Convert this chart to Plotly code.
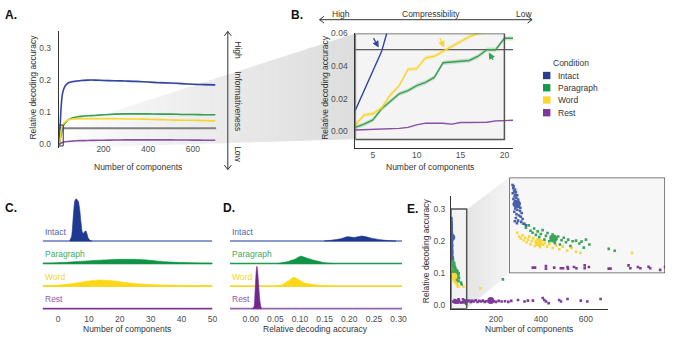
import plotly.graph_objects as go

W, H = 677, 340


def px(x):
    return x / W


def py(y):
    return 1 - y / H


FONT = "Liberation Sans, Arial, Helvetica, sans-serif"
TXT = "#333333"
TICK = "#4d4d4d"

# ---------------------------------------------------------------- data
conditions = ["Intact", "Paragraph", "Word", "Rest"]

# A: relative decoding accuracy over the full range of components
a_components = [1, 3, 5, 7, 10, 15, 20, 30, 40, 50, 60, 80, 100, 130, 160,
                200, 250, 300, 350, 400, 450, 500, 550, 600, 650, 700]
a_intact = [0.0, 0.013, 0.037, 0.068, 0.11, 0.15, 0.168, 0.183, 0.19, 0.193,
            0.195, 0.197, 0.199, 0.2, 0.2, 0.199, 0.198, 0.197, 0.196, 0.194,
            0.192, 0.191, 0.189, 0.187, 0.186, 0.185]
a_paragraph = [0.0, 0.0024, 0.007, 0.0184, 0.028, 0.043, 0.057, 0.068, 0.075,
               0.079, 0.082, 0.085, 0.087, 0.089, 0.090, 0.092, 0.094, 0.095,
               0.095, 0.095, 0.094, 0.094, 0.093, 0.093, 0.092, 0.092]
a_word = [0.0, 0.0038, 0.0108, 0.0224, 0.0384, 0.055, 0.064, 0.071, 0.075,
          0.078, 0.079, 0.08, 0.08, 0.08, 0.08, 0.08, 0.08, 0.079, 0.079,
          0.078, 0.077, 0.076, 0.075, 0.075, 0.074, 0.073]
a_rest = [0.0, 0.0008, 0.0012, 0.0015, 0.004, 0.0054, 0.0068, 0.008, 0.009,
          0.0095, 0.010, 0.011, 0.0115, 0.012, 0.0125, 0.013, 0.0135, 0.014,
          0.014, 0.014, 0.014, 0.0138, 0.0135, 0.0132, 0.013, 0.013]
a_ci_half = {"Intact": 0.003, "Paragraph": 0.0025, "Word": 0.002, "Rest": 0.001}
chance_level = 0.05

# B: the first components, zoomed
b_components = list(range(3, 22))
b_intact_components = [3, 4, 5, 6, 7, 8]
b_intact = [0.013, 0.025, 0.037, 0.049, 0.068, 0.085]
b_paragraph = [0.0024, 0.0044, 0.007, 0.0138, 0.0184, 0.023, 0.025, 0.028,
               0.030, 0.033, 0.042, 0.0424, 0.043, 0.0434, 0.046, 0.050,
               0.050, 0.057, 0.057]
b_word = [0.0038, 0.010, 0.0108, 0.0144, 0.0224, 0.028, 0.038, 0.0384, 0.045,
          0.046, 0.049, 0.052, 0.055, 0.058, 0.060, 0.061, 0.063, 0.064, 0.065]
b_rest = [0.0008, 0.001, 0.0012, 0.0013, 0.0015, 0.0018, 0.0024, 0.004, 0.005,
          0.0052, 0.005, 0.0044, 0.0054, 0.0054, 0.0054, 0.0056, 0.0064,
          0.0064, 0.0068]
b_ci_half = {"Intact": 0.0006, "Paragraph": 0.0013, "Word": 0.0013, "Rest": 0.0003}

# C: density of the number of components needed (row-height units)
c_intact_x = [3.8, 4.4, 5.0, 5.4, 5.8, 6.2, 6.6, 7.0, 7.4, 7.8, 8.2, 8.6,
              9.0, 9.4, 9.8, 10.2, 10.6, 11.0]
c_intact_h = [0.0, 0.22, 1.25, 1.78, 1.88, 1.83, 1.74, 1.40, 0.85, 0.42,
              0.33, 0.42, 0.45, 0.30, 0.12, 0.05, 0.01, 0.0]
c_paragraph_x = [-5, 0, 3, 6, 9.5, 13, 17, 20, 24.5, 28, 31, 35, 40.5, 45, 50]
c_paragraph_h = [0.013, 0.039, 0.057, 0.087, 0.117, 0.148, 0.174, 0.187,
                 0.187, 0.165, 0.13, 0.078, 0.043, 0.026, 0.013]
c_word_x = [-5, 0, 4.8, 7.5, 10, 13.3, 17, 21, 26, 32, 40.7, 50]
c_word_h = [0.013, 0.043, 0.117, 0.174, 0.23, 0.274, 0.248, 0.174, 0.1,
            0.057, 0.03, 0.013]
c_rest_x = [-5, 50]
c_rest_h = [0.0, 0.0]

# D: density of the relative decoding accuracy (row-height units)
d_intact_x = [0.149, 0.165, 0.183, 0.196, 0.21, 0.226, 0.243, 0.263, 0.283, 0.295]
d_intact_h = [0, 0.04, 0.1, 0.19, 0.16, 0.22, 0.14, 0.06, 0.01, 0]
d_paragraph_x = [0.055, 0.075, 0.089, 0.101, 0.112, 0.129, 0.149, 0.169]
d_paragraph_h = [0, 0.087, 0.19, 0.33, 0.26, 0.145, 0.04, 0]
d_word_x = [0.048, 0.065, 0.079, 0.087, 0.095, 0.109, 0.129, 0.149, 0.17]
d_word_h = [0, 0.074, 0.27, 0.39, 0.32, 0.145, 0.058, 0.013, 0]
d_rest_x = [0.004, 0.007, 0.009, 0.011, 0.0125, 0.014, 0.016, 0.018, 0.02, 0.022]
d_rest_h = [0, 0.1, 0.8, 1.6, 1.88, 1.7, 1.1, 0.5, 0.15, 0]

# E: individual recordings (components, accuracy) and condition means
e_intact_x = [1.5, 2.0, 1.8, 2.6, 2.2, 3.0, 1.6, 2.8, 3.6, 2.4, 3.2, 1.9, 4.0,
              2.6, 3.8, 4.6, 2.1, 3.0, 4.2, 5.0, 2.7, 3.6, 4.8, 2.3, 5.6, 3.3,
              4.4, 5.2, 3.0, 6.0, 4.0, 5.4, 3.5, 6.8, 2.5, 7.5]
e_intact_y = [0.272, 0.268, 0.262, 0.258, 0.252, 0.250, 0.246, 0.242, 0.240,
              0.236, 0.232, 0.228, 0.226, 0.222, 0.218, 0.214, 0.212, 0.208,
              0.204, 0.200, 0.198, 0.194, 0.190, 0.188, 0.184, 0.180, 0.176,
              0.172, 0.168, 0.165, 0.160, 0.156, 0.152, 0.150, 0.158, 0.145]
e_paragraph_x = [6.2, 7.5, 8.8, 9.6, 10.5, 11.2, 12.0, 12.8, 13.5, 14.2, 15.0,
                 15.8, 16.5, 17.2, 18.0, 18.8, 19.5, 20.5, 21.2, 22.0, 22.8,
                 23.5, 24.5, 25.5, 26.5, 27.5, 28.5, 30.0, 31.5, 32.5, 33.5,
                 34.5, 36.0, 44.7, 47.4, 231]
e_paragraph_y = [0.150, 0.138, 0.145, 0.128, 0.122, 0.135, 0.115, 0.126, 0.108,
                 0.118, 0.130, 0.100, 0.112, 0.121, 0.095, 0.108, 0.116, 0.090,
                 0.102, 0.110, 0.085, 0.098, 0.106, 0.092, 0.100, 0.080, 0.095,
                 0.097, 0.088, 0.094, 0.075, 0.100, 0.085, 0.071, 0.065, 0.081]
e_word_x = [3.6, 4.5, 5.2, 6.0, 6.5, 7.2, 7.8, 8.5, 9.0, 9.6, 10.2, 10.8, 11.5,
            12.0, 12.6, 13.2, 13.8, 14.5, 15.2, 16.0, 17.0, 18.0, 19.5, 21.0,
            22.5, 24.0, 26.0, 28.0, 30.0, 32.0, 55.2, 131]
e_word_y = [0.122, 0.110, 0.104, 0.114, 0.098, 0.106, 0.092, 0.100, 0.110,
            0.086, 0.096, 0.104, 0.080, 0.092, 0.100, 0.088, 0.076, 0.095,
            0.084, 0.090, 0.078, 0.086, 0.074, 0.082, 0.070, 0.078, 0.066,
            0.074, 0.062, 0.058, 0.058, 0.053]
e_rest_x = [10.6, 11.6, 16.5, 16.5, 20.2, 23.2, 24.2, 26.2, 26.4, 29.1, 30.2,
            33.9, 33.9, 35.8, 44.7, 45.5, 53.6, 54.4, 57.8, 58.9, 62.6, 63.3,
            67.8, 70.0, 76, 82, 88, 95, 102, 110, 118, 126, 134, 142, 150, 158,
            190, 200, 212, 225, 240, 255, 268, 298, 327, 342, 364, 408, 415,
            422, 434, 481, 489, 518, 577, 606, 665]
e_rest_y = [0.012, 0.012, 0.017, 0.009, 0.012, 0.010, 0.010, 0.014, 0.009,
            0.014, 0.010, 0.019, 0.010, 0.014, 0.009, 0.009, 0.019, 0.010,
            0.014, 0.010, 0.015, 0.010, 0.005, 0.014, 0.013, 0.015, 0.011,
            0.014, 0.012, 0.016, 0.011, 0.014, 0.012, 0.015, 0.011, 0.013,
            0.013, 0.011, 0.014, 0.012, 0.013, 0.011, 0.014, 0.017, 0.012,
            0.015, 0.015, 0.023, 0.017, 0.012, 0.007, 0.017, 0.012, 0.020,
            0.015, 0.012, 0.020]
e_mean_x = [3.4, 19.8, 13.2, 177]
e_mean_y = [0.212, 0.104, 0.091, 0.015]

# ---------------------------------------------------------------- styles
line_color = {"Intact": "#3347a2", "Paragraph": "#3a9f55", "Word": "#f7d62c", "Rest": "#8a50a6"}
ridge_fill = {"Intact": "#1f3890", "Paragraph": "#0f9446", "Word": "#fdd819", "Rest": "#74268f"}
ridge_base = {"Intact": "#6677bb", "Paragraph": "#1f9a4e", "Word": "#f9d733", "Rest": "#9565ad"}
ridge_label = {"Intact": "#5264b0", "Paragraph": "#3daa5f", "Word": "#f6d532", "Rest": "#9258ab"}
legend_color = {"Intact": "#2b3c8c", "Paragraph": "#15994b", "Word": "#fdd52b", "Rest": "#7a3a96"}
point_color = {"Intact": "#4a5eae", "Paragraph": "#3ca45a", "Word": "#f8d73a", "Rest": "#7e3b9b"}


def rgba(hex_color, alpha):
    h = hex_color.lstrip("#")
    r, g, b = int(h[0:2], 16), int(h[2:4], 16), int(h[4:6], 16)
    return f"rgba({r},{g},{b},{alpha})"


fig = go.Figure()

# ------------------------------------------------------------ panel A
a_range_x = [0, 705]
a_series = {"Intact": a_intact, "Paragraph": a_paragraph, "Word": a_word, "Rest": a_rest}
fig.add_trace(go.Scatter(x=a_range_x, y=[chance_level, chance_level], mode="lines",
                         line=dict(color="#808080", width=2), xaxis="x", yaxis="y",
                         hoverinfo="skip"))
for c in conditions:
    ys = a_series[c]
    hw = a_ci_half[c]
    fig.add_trace(go.Scatter(
        x=a_components + a_components[::-1],
        y=[v + hw for v in ys] + [v - hw for v in ys][::-1],
        fill="toself", fillcolor=rgba(line_color[c], 0.18), line=dict(width=0),
        mode="lines", xaxis="x", yaxis="y", hoverinfo="skip"))
    fig.add_trace(go.Scatter(x=a_components, y=ys, mode="lines",
                             line=dict(color=line_color[c], width=1.6, shape="spline", smoothing=0.6),
                             xaxis="x", yaxis="y", name=c))

# ------------------------------------------------------------ panel B
b_range_x = [3, 21]
fig.add_trace(go.Scatter(x=b_range_x, y=[chance_level, chance_level], mode="lines",
                         line=dict(color="#333333", width=1), xaxis="x2", yaxis="y2",
                         hoverinfo="skip"))
b_series = {"Intact": (b_intact_components, b_intact), "Paragraph": (b_components, b_paragraph),
            "Word": (b_components, b_word), "Rest": (b_components, b_rest)}
for c in ["Rest", "Paragraph", "Word", "Intact"]:
    xs, ys = b_series[c]
    hw = b_ci_half[c]
    fig.add_trace(go.Scatter(
        x=xs + xs[::-1],
        y=[v + hw for v in ys] + [v - hw for v in ys][::-1],
        fill="toself", fillcolor=rgba(line_color[c], 0.25), line=dict(width=0),
        mode="lines", xaxis="x2", yaxis="y2", hoverinfo="skip"))
    fig.add_trace(go.Scatter(x=xs, y=ys, mode="lines",
                             line=dict(color=line_color[c], width=1.4),
                             xaxis="x2", yaxis="y2", name=c))

# ------------------------------------------------------ panels C and D
row_offset = {"Intact": 3, "Paragraph": 2, "Word": 1, "Rest": 0}
c_series = {"Intact": (c_intact_x, c_intact_h), "Paragraph": (c_paragraph_x, c_paragraph_h),
            "Word": (c_word_x, c_word_h), "Rest": (c_rest_x, c_rest_h)}
d_series = {"Intact": (d_intact_x, d_intact_h), "Paragraph": (d_paragraph_x, d_paragraph_h),
            "Word": (d_word_x, d_word_h), "Rest": (d_rest_x, d_rest_h)}
c_range_x = [-5, 50]
d_range_x = [-0.042, 0.307]

for series, rng, xa, ya in [(c_series, c_range_x, "x3", "y3"), (d_series, d_range_x, "x4", "y4")]:
    for c in conditions:
        off = row_offset[c]
        xs, hs = series[c]
        fig.add_trace(go.Scatter(x=rng, y=[off, off], mode="lines",
                                 line=dict(color=ridge_base[c], width=1.6),
                                 xaxis=xa, yaxis=ya, hoverinfo="skip"))
        fig.add_trace(go.Scatter(
            x=xs + xs[::-1], y=[off + h for h in hs] + [off] * len(xs),
            fill="toself", fillcolor=ridge_fill[c], mode="lines",
            line=dict(color=ridge_fill[c], width=0.6, shape="spline", smoothing=0.5),
            xaxis=xa, yaxis=ya, hoverinfo="skip"))

# ------------------------------------------------------------ panel E
e_points = {"Rest": (e_rest_x, e_rest_y), "Word": (e_word_x, e_word_y),
            "Paragraph": (e_paragraph_x, e_paragraph_y), "Intact": (e_intact_x, e_intact_y)}
for xa, ya, small, big in [("x5", "y5", 2.6, 7), ("x6", "y6", 2.6, 8)]:
    for c in ["Rest", "Word", "Paragraph", "Intact"]:
        xs, ys = e_points[c]
        fig.add_trace(go.Scatter(x=xs, y=ys, mode="markers",
                                 marker=dict(color=point_color[c], size=small, symbol="square",
                                             line=dict(width=0)),
                                 xaxis=xa, yaxis=ya, hoverinfo="skip"))
    for i, c in enumerate(conditions):
        fig.add_trace(go.Scatter(x=[e_mean_x[i]], y=[e_mean_y[i]], mode="markers",
                                 marker=dict(color=point_color[c], size=big, line=dict(width=0)),
                                 xaxis=xa, yaxis=ya, hoverinfo="skip"))

# ------------------------------------------------------------ shapes
shapes = []


def poly(points, fill):
    path = "M " + " L ".join(f"{px(x):.5f},{py(y):.5f}" for x, y in points) + " Z"
    return dict(type="path", path=path, xref="paper", yref="paper",
                fillcolor=fill, line=dict(width=0), layer="below")


def polyline(points, color="#333333", width=1):
    path = "M " + " L ".join(f"{px(x):.5f},{py(y):.5f}" for x, y in points)
    return dict(type="path", path=path, xref="paper", yref="paper",
                line=dict(color=color, width=width), layer="above")


# zoom wedge from A to B (gradient made of thin strips)
n = 60
x_start, x_end = 64.0, 358.0
for i in range(n):
    t0 = i / n
    t1 = (i + 1) / n
    xa0 = x_start + (x_end - x_start) * t0
    xa1 = x_start + (x_end - x_start) * t1 + 0.6
    tt1 = min(1.0, (xa1 - x_start) / (x_end - x_start))
    top0, top1 = 125 + (29 - 125) * t0, 125 + (29 - 125) * tt1
    bot0, bot1 = 146 + (137 - 146) * t0, 146 + (137 - 146) * tt1
    g = int(round(255 - 34 * ((t0 + t1) / 2) ** 0.8))
    shapes.append(poly([(xa0, top0), (xa1, top1), (xa1, bot1), (xa0, bot0)], f"rgb({g},{g},{g})"))

# zoom wedge in E
n = 24
x_start, x_end = 470.2, 513.0
for i in range(n):
    t0 = i / n
    t1 = (i + 1) / n
    xa0 = x_start + (x_end - x_start) * t0
    xa1 = x_start + (x_end - x_start) * t1 + 0.6
    tt1 = min(1.0, (xa1 - x_start) / (x_end - x_start))
    top0, top1 = 209 + (176 - 209) * t0, 209 + (176 - 209) * tt1
    bot0, bot1 = 310 + (274 - 310) * t0, 310 + (274 - 310) * tt1
    g = int(round(228 + 16 * ((t0 + t1) / 2)))
    shapes.append(poly([(xa0, top0), (xa1, top1), (xa1, bot1), (xa0, bot0)], f"rgb({g},{g},{g})"))

# B zoom box
shapes.append(dict(type="rect", xref="x2", yref="y2", x0=3, x1=20, y0=-0.005, y1=0.06,
                   fillcolor="#f4f4f4", line=dict(width=0), layer="below"))
shapes.append(dict(type="rect", xref="x2", yref="y2", x0=3, x1=20, y0=-0.005, y1=0.06,
                   line=dict(color="#555555", width=1.5), layer="above"))
# A marker of the zoomed region
shapes.append(dict(type="rect", xref="x", yref="y", x0=0, x1=20, y0=-0.005, y1=0.06,
                   line=dict(color="#333333", width=1), layer="above"))
# E small box and inset frame
shapes.append(dict(type="rect", xref="x5", yref="y5", x0=0, x1=70, y0=-0.0103, y1=0.30,
                   fillcolor="#f3f3f3", line=dict(width=0), layer="below"))
shapes.append(dict(type="rect", xref="x5", yref="y5", x0=0, x1=70, y0=-0.0103, y1=0.30,
                   line=dict(color="#555555", width=1.5), layer="above"))
shapes.append(dict(type="rect", xref="x6", yref="y6", x0=0, x1=70, y0=-0.006, y1=0.296,
                   fillcolor="#f7f7f7", line=dict(width=0), layer="below"))
shapes.append(dict(type="rect", xref="x6", yref="y6", x0=0, x1=70, y0=-0.006, y1=0.296,
                   line=dict(color="#555555", width=1.5), layer="above"))

# Informativeness double arrow
shapes.append(polyline([(229.5, 27), (229.5, 168)]))
shapes.append(polyline([(226, 31.5), (229.5, 27), (233, 31.5)]))
shapes.append(polyline([(226, 163.5), (229.5, 168), (233, 163.5)]))
# Compressibility double arrow
shapes.append(polyline([(322, 15), (536, 15)]))
shapes.append(polyline([(326.5, 11.5), (322, 15), (326.5, 18.5)]))
shapes.append(polyline([(531.5, 11.5), (536, 15), (531.5, 18.5)]))

# legend keys
legend_y = [72, 84.5, 97, 110]
for c, yy in zip(conditions, legend_y):
    shapes.append(dict(type="rect", xref="paper", yref="paper",
                       x0=px(547), x1=px(554.5), y0=py(yy + 3.75), y1=py(yy - 3.75),
                       fillcolor=legend_color[c], line=dict(width=0)))

# ------------------------------------------------------------ annotations
ann = []


def text(x, y, s, size=8.5, color=TXT, xanchor="left", angle=0):
    ann.append(dict(x=px(x), y=py(y), xref="paper", yref="paper", text=s, showarrow=False,
                    xanchor=xanchor, yanchor="middle", textangle=angle,
                    font=dict(family=FONT, size=size, color=color)))


for s, x, y in [("A.", 3, 10), ("B.", 291, 10), ("C.", 3, 207), ("D.", 223, 207), ("E.", 408, 208)]:
    text(x, y, f"<b>{s}</b>", size=12, color="#111111")

# axis titles
text(138.8, 165, "Number of components", xanchor="center")
text(33.5, 84, "Relative decoding accuracy", xanchor="center", angle=-90)
text(433, 165.5, "Number of components", xanchor="center")
text(328, 84, "Relative decoding accuracy", xanchor="center", angle=-90)
text(128, 330.5, "Number of components", xanchor="center")
text(318, 330.5, "Relative decoding accuracy", xanchor="center")
text(533, 330.5, "Number of components", xanchor="center")
text(428.5, 251, "Relative decoding accuracy", xanchor="center", angle=-90)

# arrow captions
text(239.5, 46, "High", xanchor="center", angle=90)
text(239.5, 98, "Informativeness", xanchor="center", angle=90)
text(239.5, 152, "Low", xanchor="center", angle=90)
text(343.5, 9.5, "High", xanchor="center")
text(434, 9.5, "Compressibility", xanchor="center")
text(518, 9.5, "Low", xanchor="left")

# legend
text(555, 59, "Condition")
for c, yy in zip(conditions, legend_y):
    text(560, yy, c)

# ridge labels
ridge_label_y = {"Intact": 232, "Paragraph": 254.7, "Word": 278, "Rest": 300.5}
for c in conditions:
    text(43, ridge_label_y[c], c, color=ridge_label[c])
    text(232, ridge_label_y[c], c, color=ridge_label[c])

# highlighted crossings in B
for (hx, hy, dx, dy, col) in [(381.5, 43.5, -6, -11, line_color["Intact"]),
                              (447.5, 43.5, -5, -11, line_color["Word"]),
                              (492.5, 48.5, 5, 9, line_color["Paragraph"])]:
    ann.append(dict(x=px(hx), y=py(hy), xref="paper", yref="paper", ax=dx, ay=dy,
                    axref="pixel", ayref="pixel", text="", showarrow=True,
                    arrowhead=2, arrowsize=1.1, arrowwidth=1.2, arrowcolor=col))


# ------------------------------------------------------------ axes
def xdom(a, b):
    return [px(a), px(b)]


def ydom(top, bottom):
    return [py(bottom), py(top)]


base_axis = dict(showgrid=False, zeroline=False, ticks="", fixedrange=True,
                 tickfont=dict(family=FONT, size=8.5, color=TICK))
hidden = dict(visible=False, showgrid=False, zeroline=False, fixedrange=True)

layout_axes = dict(
    xaxis=dict(base_axis, domain=xdom(59.2, 218.0), range=a_range_x, anchor="y",
               showline=False, tickvals=[200, 400, 600], ticklabelstandoff=-5),
    yaxis=dict(base_axis, domain=ydom(26.5, 145.9), range=[-0.011, 0.353], anchor="x",
               showline=True, linecolor="#333333", linewidth=1,
               tickvals=[0, 0.1, 0.2, 0.3], ticktext=["0.0", "0.1", "0.2", "0.3"],
               ticklabelstandoff=5),
    xaxis2=dict(base_axis, domain=xdom(358, 517), range=b_range_x, anchor="y2",
                showline=True, linecolor="#333333", linewidth=1,
                tickvals=[5, 10, 15, 20], ticklabelstandoff=-1),
    yaxis2=dict(base_axis, domain=ydom(29, 146), range=[-0.0102, 0.06], anchor="x2",
                showline=True, linecolor="#333333", linewidth=1,
                tickvals=[0, 0.02, 0.04, 0.06], ticktext=["0.00", "0.02", "0.04", "0.06"],
                ticklabelstandoff=5),
    xaxis3=dict(base_axis, domain=xdom(43, 214), range=c_range_x, anchor="y3",
                showline=False, tickvals=[0, 10, 20, 30, 40, 50], ticklabelstandoff=2),
    yaxis3=dict(hidden, domain=ydom(190, 312), range=[-2 / 23, 120 / 23], anchor="x3"),
    xaxis4=dict(base_axis, domain=xdom(231.7, 405), range=d_range_x, anchor="y4",
                showline=False, tickvals=[0, 0.05, 0.10, 0.15, 0.20, 0.25, 0.30],
                ticktext=["0.00", "0.05", "0.10", "0.15", "0.20", "0.25", "0.30"],
                ticklabelstandoff=2),
    yaxis4=dict(hidden, domain=ydom(190, 312), range=[-2 / 23, 120 / 23], anchor="x4"),
    xaxis5=dict(base_axis, domain=xdom(454.3, 613), range=[0, 700], anchor="y5",
                showline=True, linecolor="#333333", linewidth=1,
                tickvals=[200, 400, 600], ticklabelstandoff=2),
    yaxis5=dict(base_axis, domain=ydom(195.2, 310.1), range=[-0.0103, 0.34], anchor="x5",
                showline=True, linecolor="#333333", linewidth=1,
                tickvals=[0, 0.1, 0.2, 0.3], ticktext=["0.0", "0.1", "0.2", "0.3"],
                ticklabelstandoff=3),
    xaxis6=dict(hidden, domain=xdom(513, 670), range=[0, 70], anchor="y6"),
    yaxis6=dict(hidden, domain=ydom(176, 274), range=[-0.006, 0.296], anchor="x6"),
)

fig.update_layout(
    width=W, height=H, margin=dict(l=0, r=0, t=0, b=0),
    paper_bgcolor="white", plot_bgcolor="rgba(0,0,0,0)",
    showlegend=False, font=dict(family=FONT, size=8.5, color=TXT),
    shapes=shapes, annotations=ann, **layout_axes,
)

fig.write_html("out.html", config={"displayModeBar": False})
